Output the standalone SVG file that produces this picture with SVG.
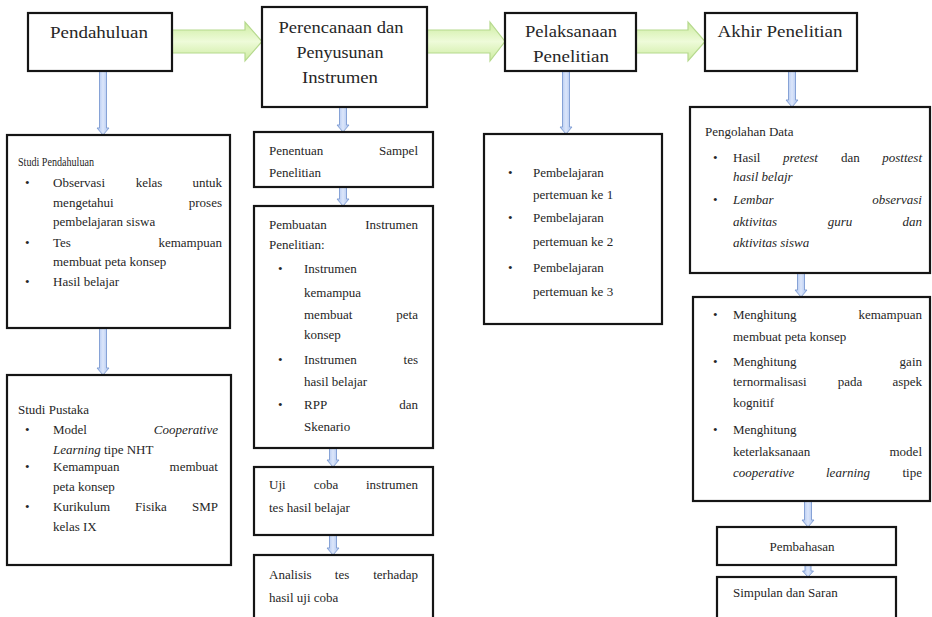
<svg xmlns="http://www.w3.org/2000/svg" width="932" height="617" viewBox="0 0 932 617" font-family="'Liberation Serif', 'Times New Roman', 'DejaVu Serif', serif">
<defs>
<linearGradient id="gg" x1="0" y1="0" x2="0" y2="1">
<stop offset="0" stop-color="#cdeca0"/>
<stop offset="0.5" stop-color="#eefbd9"/>
<stop offset="1" stop-color="#cdeca0"/>
</linearGradient>
<linearGradient id="bg" x1="0" y1="0" x2="1" y2="0">
<stop offset="0" stop-color="#a6bfee"/>
<stop offset="0.5" stop-color="#dce6fa"/>
<stop offset="1" stop-color="#a6bfee"/>
</linearGradient>
</defs>
<style>
.box{fill:#fff;stroke:#151515;stroke-width:2.2}
.t{font-family:'Liberation Serif','Times New Roman','DejaVu Serif',serif;font-size:13px;fill:#262626}
.h{font-family:'Liberation Serif','Times New Roman','DejaVu Serif',serif;font-size:17px;fill:#262626;text-anchor:middle}
.e{text-anchor:end}
.m{text-anchor:middle}
.i{font-style:italic}
.ga{fill:url(#gg);stroke:#b6d98e;stroke-width:1.2}
.ba{fill:url(#bg);stroke:#86a2d6;stroke-width:1}
</style>
<rect width="932" height="617" fill="#fff"/>
<g id="connectors">
<path class="ga" d="M172 30 H245 V22 L262 41.5 L245 61 V53 H172 Z"/>
<path class="ga" d="M427 30 H490 V22 L505 41.5 L490 61 V53 H427 Z"/>
<path class="ga" d="M636 30 H688 V22 L705 41.5 L688 61 V53 H636 Z"/>
<path class="ba" d="M99.5 71 H106.5 V128 H109 L103 135 L97 128 H99.5 Z"/>
<path class="ba" d="M99.5 328 H106.5 V368 H109 L103 375 L97 368 H99.5 Z"/>
<path class="ba" d="M339.5 107 H346.5 V125 H349 L343 132 L337 125 H339.5 Z"/>
<path class="ba" d="M339.5 187 H346.5 V199 H349 L343 206 L337 199 H339.5 Z"/>
<path class="ba" d="M329.5 448 H336.5 V460 H339 L333 467 L327 460 H329.5 Z"/>
<path class="ba" d="M329.5 535 H336.5 V548 H339 L333 555 L327 548 H329.5 Z"/>
<path class="ba" d="M562.5 71 H569.5 V127 H572 L566 134 L560 127 H562.5 Z"/>
<path class="ba" d="M788.5 71 H795.5 V100 H798 L792 107 L786 100 H788.5 Z"/>
<path class="ba" d="M797.5 273 H804.5 V290 H807 L801 297 L795 290 H797.5 Z"/>
<path class="ba" d="M804.5 501 H811.5 V520 H814 L808 527 L802 520 H804.5 Z"/>
<path class="ba" d="M805 565 H811 V571 H813.5 L808 577 L802.5 571 H805 Z"/>
</g>
<g id="n-pendahuluan">
<rect class="box" x="28" y="13" width="144" height="58"/>
<text class="h" x="99" y="38" textLength="98" lengthAdjust="spacingAndGlyphs">Pendahuluan</text>
</g>
<g id="n-perencanaan">
<rect class="box" x="262" y="7" width="165" height="100"/>
<text class="h" x="341" y="33" textLength="125" lengthAdjust="spacingAndGlyphs">Perencanaan dan</text>
<text class="h" x="340" y="58" textLength="87" lengthAdjust="spacingAndGlyphs">Penyusunan</text>
<text class="h" x="340" y="83" textLength="76" lengthAdjust="spacingAndGlyphs">Instrumen</text>
</g>
<g id="n-pelaksanaan">
<rect class="box" x="505" y="13" width="131" height="58"/>
<text class="h" x="571" y="37" textLength="92" lengthAdjust="spacingAndGlyphs">Pelaksanaan</text>
<text class="h" x="571" y="62" textLength="76" lengthAdjust="spacingAndGlyphs">Penelitian</text>
</g>
<g id="n-akhir">
<rect class="box" x="705" y="13" width="152" height="58"/>
<text class="h" x="780" y="37" textLength="125" lengthAdjust="spacingAndGlyphs">Akhir Penelitian</text>
</g>
<g id="n-studi-pendahuluan">
<rect class="box" x="7" y="135" width="223" height="193"/>
<text class="t" x="18" y="166" textLength="76" lengthAdjust="spacingAndGlyphs">Studi Pendahuluan</text>
<text class="t" x="25" y="187">•</text>
<text class="t" x="53" y="187">Observasi</text>
<text class="t m" x="149" y="187">kelas</text>
<text class="t e" x="222" y="187">untuk</text>
<text class="t" x="53" y="207">mengetahui</text>
<text class="t e" x="222" y="207">proses</text>
<text class="t" x="53" y="226">pembelajaran  siswa</text>
<text class="t" x="25" y="247">•</text>
<text class="t" x="53" y="247">Tes</text>
<text class="t e" x="222" y="247">kemampuan</text>
<text class="t" x="53" y="266">membuat peta konsep</text>
<text class="t" x="25" y="286">•</text>
<text class="t" x="53" y="286">Hasil belajar</text>
</g>
<g id="n-studi-pustaka">
<rect class="box" x="7" y="375" width="224" height="190"/>
<text class="t" x="18" y="414">Studi Pustaka</text>
<text class="t" x="25" y="434">•</text>
<text class="t" x="53" y="434">Model</text>
<text class="t e i" x="218" y="434">Cooperative</text>
<text class="t" x="53" y="454"><tspan class="i">Learning</tspan> tipe NHT</text>
<text class="t" x="25" y="471">•</text>
<text class="t" x="53" y="471">Kemampuan</text>
<text class="t e" x="218" y="471">membuat</text>
<text class="t" x="53" y="491">peta konsep</text>
<text class="t" x="25" y="511">•</text>
<text class="t" x="53" y="511">Kurikulum</text>
<text class="t m" x="151" y="511">Fisika</text>
<text class="t e" x="218" y="511">SMP</text>
<text class="t" x="53" y="531">kelas IX</text>
</g>
<g id="n-penentuan">
<rect class="box" x="254" y="132" width="179" height="55"/>
<text class="t" x="269" y="155">Penentuan</text>
<text class="t e" x="418" y="155">Sampel</text>
<text class="t" x="269" y="177">Penelitian</text>
</g>
<g id="n-pembuatan">
<rect class="box" x="254" y="206" width="179" height="242"/>
<text class="t" x="269" y="229">Pembuatan</text>
<text class="t e" x="418" y="229">Instrumen</text>
<text class="t" x="269" y="249">Penelitian:</text>
<text class="t" x="278" y="273">•</text>
<text class="t" x="304" y="273">Instrumen</text>
<text class="t" x="304" y="297">kemampua</text>
<text class="t" x="304" y="319">membuat</text>
<text class="t e" x="418" y="319">peta</text>
<text class="t" x="304" y="339">konsep</text>
<text class="t" x="278" y="364">•</text>
<text class="t" x="304" y="364">Instrumen</text>
<text class="t e" x="418" y="364">tes</text>
<text class="t" x="304" y="386">hasil belajar</text>
<text class="t" x="278" y="409">•</text>
<text class="t" x="304" y="409">RPP</text>
<text class="t e" x="418" y="409">dan</text>
<text class="t" x="304" y="431">Skenario</text>
</g>
<g id="n-ujicoba">
<rect class="box" x="254" y="467" width="179" height="68"/>
<text class="t" x="269" y="489">Uji</text>
<text class="t m" x="326" y="489">coba</text>
<text class="t e" x="418" y="489">instrumen</text>
<text class="t" x="269" y="512">tes hasil belajar</text>
</g>
<g id="n-analisis">
<rect class="box" x="254" y="555" width="179" height="80"/>
<text class="t" x="269" y="579">Analisis</text>
<text class="t m" x="342" y="579">tes</text>
<text class="t e" x="418" y="579">terhadap</text>
<text class="t" x="269" y="602">hasil uji coba</text>
</g>
<g id="n-pembelajaran">
<rect class="box" x="484" y="134" width="178" height="190"/>
<text class="t" x="508" y="177">•</text>
<text class="t" x="533" y="177">Pembelajaran</text>
<text class="t" x="533" y="199">pertemuan ke 1</text>
<text class="t" x="508" y="222">•</text>
<text class="t" x="533" y="222">Pembelajaran</text>
<text class="t" x="533" y="246">pertemuan ke 2</text>
<text class="t" x="508" y="272">•</text>
<text class="t" x="533" y="272">Pembelajaran</text>
<text class="t" x="533" y="296">pertemuan ke 3</text>
</g>
<g id="n-pengolahan">
<rect class="box" x="690" y="107" width="240" height="166"/>
<text class="t" x="705" y="136">Pengolahan Data</text>
<text class="t" x="713" y="162">•</text>
<text class="t" x="733" y="162">Hasil</text>
<text class="t i" x="783" y="162">pretest</text>
<text class="t" x="841" y="162">dan</text>
<text class="t e i" x="922" y="162">posttest</text>
<text class="t i" x="733" y="181">hasil belajr</text>
<text class="t" x="713" y="204">•</text>
<text class="t i" x="733" y="204">Lembar</text>
<text class="t e i" x="922" y="204">observasi</text>
<text class="t i" x="733" y="226">aktivitas</text>
<text class="t m i" x="840" y="226">guru</text>
<text class="t e i" x="922" y="226">dan</text>
<text class="t i" x="733" y="247">aktivitas siswa</text>
</g>
<g id="n-menghitung">
<rect class="box" x="693" y="297" width="237" height="204"/>
<text class="t" x="713" y="319">•</text>
<text class="t" x="733" y="319">Menghitung</text>
<text class="t e" x="922" y="319">kemampuan</text>
<text class="t" x="733" y="341">membuat peta konsep</text>
<text class="t" x="713" y="366">•</text>
<text class="t" x="733" y="366">Menghitung</text>
<text class="t e" x="922" y="366">gain</text>
<text class="t" x="733" y="386">ternormalisasi</text>
<text class="t m" x="850" y="386">pada</text>
<text class="t e" x="922" y="386">aspek</text>
<text class="t" x="733" y="407">kognitif</text>
<text class="t" x="713" y="434">•</text>
<text class="t" x="733" y="434">Menghitung</text>
<text class="t" x="733" y="456">keterlaksanaan</text>
<text class="t e" x="922" y="456">model</text>
<text class="t i" x="733" y="477">cooperative</text>
<text class="t i" x="826" y="477">learning</text>
<text class="t e" x="922" y="477">tipe</text>
</g>
<g id="n-pembahasan">
<rect class="box" x="717" y="527" width="179" height="38"/>
<text class="t m" x="802" y="551">Pembahasan</text>
</g>
<g id="n-simpulan">
<rect class="box" x="717" y="577" width="179" height="60"/>
<text class="t" x="733" y="597">Simpulan dan Saran</text>
</g>
</svg>
